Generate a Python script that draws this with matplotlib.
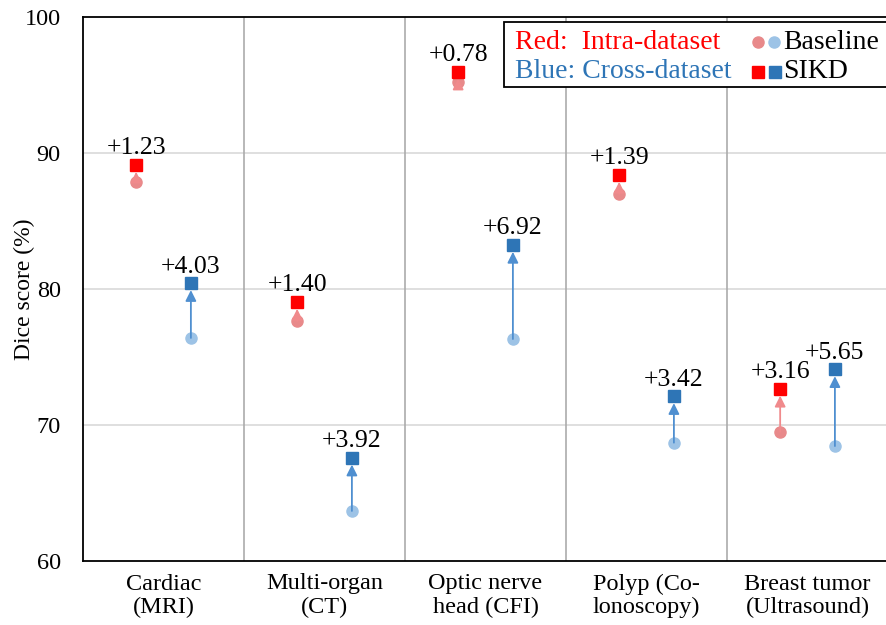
import matplotlib
matplotlib.use('Agg')
import matplotlib.pyplot as plt
import numpy as np
from matplotlib.patches import Rectangle

categories = ['Cardiac\n(MRI)', 'Multi-organ\n(CT)', 'Optic nerve\nhead (CFI)',
              'Polyp (Co-\nlonoscopy)', 'Breast tumor\n(Ultrasound)']
intra_base = [87.9, 77.65, 95.2, 87.0, 69.5]
intra_gain = [1.23, 1.40, 0.78, 1.39, 3.16]
cross_base = [76.4, 63.68, 76.32, 68.7, 68.45]
cross_gain = [4.03, 3.92, 6.92, 3.42, 5.65]

plt.rcParams['font.family'] = ['Liberation Serif', 'DejaVu Serif']

fig = plt.figure(figsize=(8.86, 6.25), dpi=100)
ax = fig.add_axes([0.0937, 0.1024, 0.9086, 0.8704])

x = np.arange(len(categories))
off = 0.17

series = [
    (x - off, intra_base, intra_gain, '#E8898A', '#FF0000', '#F08A8C'),
    (x + off, cross_base, cross_gain, '#9DC3E6', '#2E75B6', '#4F8FD0'),
]
for xs, base, gain, c_base, c_sikd, c_arrow in series:
    sikd = np.array(base) + np.array(gain)
    for xi, b, s, g in zip(xs, base, sikd, gain):
        ax.annotate('', xy=(xi, s), xytext=(xi, b),
                    arrowprops=dict(arrowstyle='-|>', color=c_arrow, lw=1.3,
                                    mutation_scale=16, shrinkA=0, shrinkB=5),
                    zorder=3)
        ax.annotate('+%.2f' % g, xy=(xi, s), xytext=(0, 4), textcoords='offset points',
                    ha='center', va='bottom', fontsize=18.5, zorder=5)
    ax.plot(xs, base, 'o', color=c_base, markersize=8, zorder=2, linestyle='none')
    ax.plot(xs, sikd, 's', color=c_sikd, markersize=8.5, zorder=4, linestyle='none')

ax.set_xlim(-0.5, len(categories) - 0.5)
ax.set_ylim(60, 100)
ax.set_yticks([60, 70, 80, 90, 100])
ax.set_xticks(x)
ax.set_xticklabels(categories, fontsize=17.5, linespacing=1.12)
ax.tick_params(axis='y', labelsize=17.5, length=0, pad=16)
ax.tick_params(axis='x', length=0, pad=9)
ax.set_ylabel('Dice score (%)', fontsize=17)
ax.yaxis.set_label_coords(-0.06, 0.5)

for yv in [70, 80, 90]:
    ax.axhline(yv, color='#D9D9D9', lw=1.2, zorder=0)
for xv in x[:-1] + 0.5:
    ax.axvline(xv, color='#ABABAB', lw=1.2, zorder=0)

for side in ['left', 'bottom', 'top', 'right']:
    ax.spines[side].set_linewidth(1.3)
    ax.spines[side].set_color('black')

# legend box drawn by hand
ax.add_patch(Rectangle((0.523, 0.872), 0.5, 0.118, transform=ax.transAxes,
                       facecolor='white', edgecolor='black', lw=1.3,
                       zorder=6, clip_on=False))
ax.text(0.536, 0.954, 'Red:  Intra-dataset', color='#FF0000', fontsize=20,
        transform=ax.transAxes, va='center', zorder=7)
ax.text(0.536, 0.899, 'Blue: Cross-dataset', color='#2E75B6', fontsize=20,
        transform=ax.transAxes, va='center', zorder=7)
ax.plot([0.838], [0.954], 'o', color='#E8898A', markersize=8,
        transform=ax.transAxes, zorder=7)
ax.plot([0.858], [0.954], 'o', color='#9DC3E6', markersize=8,
        transform=ax.transAxes, zorder=7)
ax.plot([0.838], [0.899], 's', color='#FF0000', markersize=8,
        transform=ax.transAxes, zorder=7)
ax.plot([0.860], [0.899], 's', color='#2E75B6', markersize=8,
        transform=ax.transAxes, zorder=7)
ax.text(0.870, 0.954, 'Baseline', fontsize=20, transform=ax.transAxes,
        va='center', zorder=7)
ax.text(0.870, 0.899, 'SIKD', fontsize=20, transform=ax.transAxes,
        va='center', zorder=7)

fig.savefig('out.png', dpi=100)
